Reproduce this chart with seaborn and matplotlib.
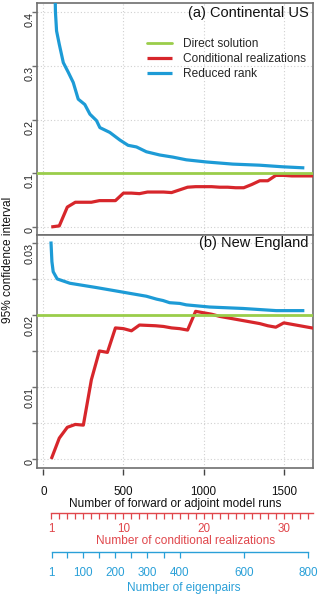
import numpy as np
import pandas as pd
import matplotlib
matplotlib.use("Agg")
import matplotlib.pyplot as plt
import seaborn as sns

sns.set_theme(style="white")
plt.rcParams['font.family'] = ['Liberation Sans', 'DejaVu Sans']

# ---------------- data ----------------
# conditional realizations (each realization = 50 model runs)
realizations = list(range(1, 35))
runs_per_realization = 50
cond_us = [0.000, 0.002, 0.037, 0.046, 0.046, 0.046, 0.049, 0.049, 0.049, 0.063,
           0.063, 0.062, 0.065, 0.065, 0.065, 0.064, 0.069, 0.074, 0.075, 0.075,
           0.075, 0.074, 0.074, 0.073, 0.073, 0.079, 0.086, 0.086, 0.096, 0.096,
           0.095, 0.095, 0.095, 0.095]
cond_ne = [0.0000, 0.0029, 0.0044, 0.0048, 0.0047, 0.0110, 0.0150, 0.0148, 0.0182, 0.0181,
           0.0178, 0.0186, 0.01855, 0.0185, 0.0184, 0.0182, 0.0181, 0.0179, 0.0205, 0.0203,
           0.0201, 0.0198, 0.0196, 0.0194, 0.0192, 0.0190, 0.0188, 0.0185, 0.0183, 0.0189,
           0.0187, 0.0185, 0.0183, 0.0181]

# reduced rank (x in number of model runs)
rr_us_runs = [52, 64, 76, 83, 100, 125, 156, 187, 218, 259, 291, 332, 353, 415, 477,
              529, 581, 643, 726, 809, 892, 1017, 1182, 1348, 1493, 1628]
rr_us = [1.20, 0.60, 0.400, 0.365, 0.340, 0.306, 0.288, 0.269, 0.238, 0.228, 0.210,
         0.198, 0.185, 0.176, 0.162, 0.152, 0.149, 0.140, 0.134, 0.130, 0.125, 0.121,
         0.117, 0.115, 0.112, 0.110]
rr_ne_runs = [48, 54, 62, 87, 166, 249, 332, 436, 539, 643, 706, 747, 788, 851, 892,
              1037, 1245, 1452, 1628]
rr_ne = [0.0302, 0.0274, 0.0260, 0.0250, 0.0244, 0.0241, 0.0238, 0.0234, 0.0230, 0.0226,
         0.0222, 0.0220, 0.0217, 0.0216, 0.0214, 0.0211, 0.0209, 0.0206, 0.0206]

direct_us = 0.1
direct_ne = 0.02

run_ticks = [0, 500, 1000, 1500]
real_major = [1, 10, 20, 30]
real_all = list(range(1, 34))
eig_major = [1, 100, 200, 300, 400, 600, 800]
eig_minor = [50, 150, 250, 350]

C_GREEN = '#9acd4a'
C_RED = '#d7262b'
C_BLUE = '#1d9bd6'
C_RED_AX = '#e0474c'
C_BLUE_AX = '#2aa0d8'
SPINE = '#6e6e6e'

# ---------------- figure ----------------
W, H = 320, 596
fig = plt.figure(figsize=(W / 100, H / 100), dpi=100)
L = 37 / W
AW = (313 - 37) / W
ax1 = fig.add_axes([L, 1 - 235 / H, AW, (235 - 3) / H])
ax2 = fig.add_axes([L, 1 - 468 / H, AW, (468 - 235) / H])
XLIM = (-39, 1682)

cond_runs = [r * runs_per_realization for r in realizations]

def draw_panel(ax, cond, rr_x, rr_y, direct):
    sns.lineplot(x=rr_x, y=rr_y, ax=ax, color=C_BLUE, lw=2.3, label='Reduced rank',
                 solid_capstyle='butt', zorder=3)
    sns.lineplot(x=cond_runs, y=cond, ax=ax, color=C_RED, lw=2.3,
                 label='Conditional realizations', solid_capstyle='butt', zorder=3)
    ax.axhline(direct, color=C_GREEN, lw=2.0, zorder=4, label='Direct solution')
    ax.set_xlim(*XLIM)
    ax.set_xticks(run_ticks)
    ax.tick_params(axis='x', length=0, labelbottom=False)
    ax.grid(True, which='both', color='#d0d0d0', lw=0.8, ls=(0, (1, 2)))
    for s in ax.spines.values():
        s.set_color(SPINE)
        s.set_linewidth(1.2)
    ax.tick_params(axis='y', which='both', direction='out', length=3.6, width=1,
                   color=SPINE, labelsize=7.8, pad=2, left=True)
    ax.set_xlabel('')
    ax.set_ylabel('')

draw_panel(ax1, cond_us, rr_us_runs, rr_us, direct_us)
ax1.set_ylim(-0.015, 0.417)
ax1.set_yticks([0, 0.1, 0.2, 0.3, 0.4])
ax1.set_yticklabels(['0', '0.1', '0.2', '0.3', '0.4'])

draw_panel(ax2, cond_ne, rr_ne_runs, rr_ne, direct_ne)
ax2.set_ylim(-0.00125, 0.0311)
ax2.set_yticks([0, 0.01, 0.02, 0.03])
ax2.set_yticklabels(['0', '0.01', '0.02', '0.03'])
ax2.set_yticks([0.005, 0.015, 0.025], minor=True)
ax2.tick_params(axis='y', which='minor', direction='out', length=3.6, width=1,
                color=SPINE, left=True)
ax2.legend_.remove()

for ax in (ax1, ax2):
    for t in ax.get_yticklabels():
        t.set_va('center')
        t.set_ha('right')
        t.set_rotation(90)
        t.set_rotation_mode('anchor')

# legend in panel (a)
h, lab = ax1.get_legend_handles_labels()
order = ['Direct solution', 'Conditional realizations', 'Reduced rank']
hd = {l: hh for hh, l in zip(h, lab)}
ax1.legend([hd[o] for o in order], order, loc='upper left',
           bbox_to_anchor=((147 - 37) / 276, 1 - (38 - 3) / 232), frameon=False,
           fontsize=8.6, handlelength=2.1, handletextpad=0.9, labelspacing=0.26,
           borderpad=0, borderaxespad=0)

ax1.text(0.985, 1 - 10 / 232, '(a) Continental US', transform=ax1.transAxes,
         ha='right', va='center', fontsize=10.5, color='#111111')
ax2.text(0.985, 1 - 8 / 233, '(b) New England', transform=ax2.transAxes,
         ha='right', va='center', fontsize=10.5, color='#111111')

fig.text(8 / W, 1 - 260 / H, '95% confidence interval', rotation=90, ha='center',
         va='center', fontsize=8.6, color='#111111')

# ---------------- extra axes below ----------------
def helper_axis(ypix):
    a = fig.add_axes([L, 1 - ypix / H, AW, 1e-5])
    a.set_xlim(*XLIM)
    a.set_yticks([])
    a.patch.set_visible(False)
    for s in a.spines.values():
        s.set_visible(False)
    a.grid(False)
    return a

# model runs
ax_runs = helper_axis(469)
ax_runs.set_xticks(run_ticks)
ax_runs.set_xticklabels([str(v) for v in run_ticks])
ax_runs.tick_params(axis='x', direction='out', length=4.3, width=1, color='#444444',
                    labelsize=8.4, pad=8.0, labelcolor='#111111', bottom=True)
fig.text(175 / W, 1 - 503.5 / H, 'Number of forward or adjoint model runs', ha='center',
         va='center', fontsize=8.6, color='#111111')

# conditional realizations
ax_real = helper_axis(513)
sp = ax_real.spines['bottom']
sp.set_visible(True)
sp.set_color(C_RED_AX)
sp.set_linewidth(1.0)
sp.set_bounds(real_all[0] * runs_per_realization, XLIM[1])
ax_real.set_xticks([r * runs_per_realization for r in real_major])
ax_real.set_xticklabels([str(r) for r in real_major])
ax_real.set_xticks([r * runs_per_realization for r in real_all if r not in real_major],
                   minor=True)
ax_real.tick_params(axis='x', which='both', direction='out', length=4.3, width=0.9,
                    color=C_RED_AX, labelsize=8.4, pad=3.0, labelcolor=C_RED_AX,
                    bottom=True)
fig.text(186 / W, 1 - 541.5 / H, 'Number of conditional realizations', ha='center',
         va='center', fontsize=8.6, color=C_RED_AX)

# eigenpairs (2 runs per eigenpair plus 50)
def eig_to_runs(n):
    return 2 * n + 50

ax_eig = helper_axis(552)
sp = ax_eig.spines['bottom']
sp.set_visible(True)
sp.set_color(C_BLUE_AX)
sp.set_linewidth(1.0)
sp.set_bounds(eig_to_runs(eig_major[0]), eig_to_runs(eig_major[-1]))
ax_eig.set_xticks([eig_to_runs(n) for n in eig_major])
ax_eig.set_xticklabels([str(n) for n in eig_major])
ax_eig.set_xticks([eig_to_runs(n) for n in eig_minor], minor=True)
ax_eig.tick_params(axis='x', which='both', direction='out', length=4.3, width=0.9,
                   color=C_BLUE_AX, labelsize=8.4, pad=6.8, labelcolor=C_BLUE_AX,
                   bottom=True)
fig.text(184 / W, 1 - 587.5 / H, 'Number of eigenpairs', ha='center', va='center',
         fontsize=8.6, color=C_BLUE_AX)

fig.savefig('out.png', dpi=100)
